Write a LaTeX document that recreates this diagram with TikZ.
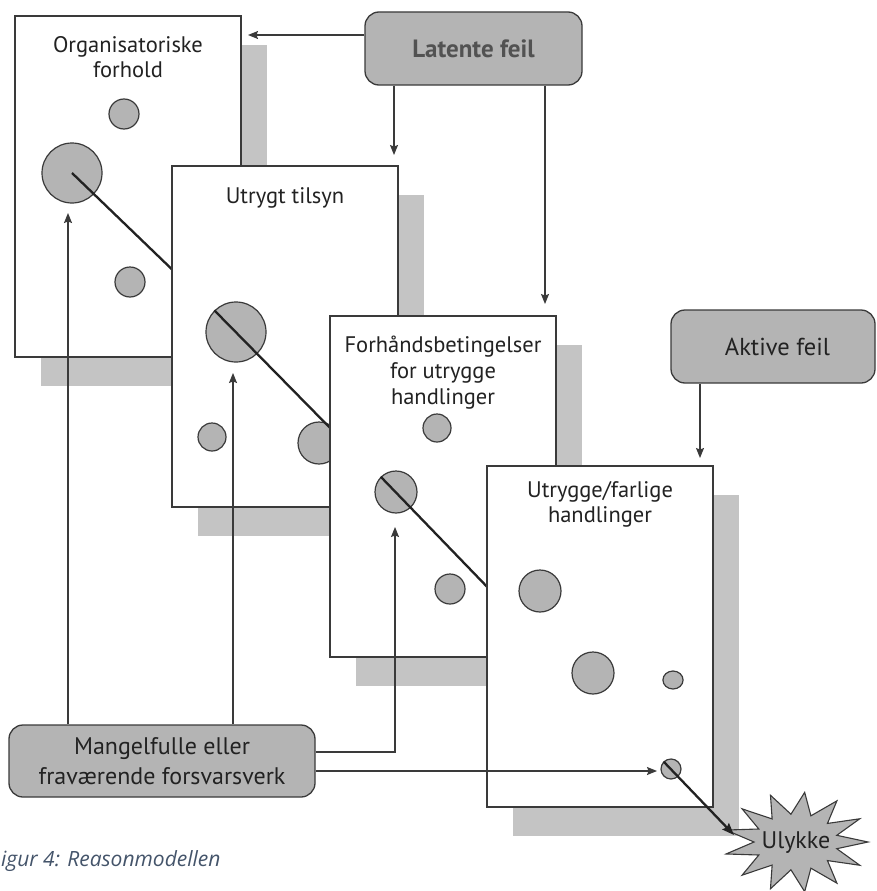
\documentclass[tikz,border=0pt]{standalone}
\usepackage{fontspec}
\setmainfont{PT Sans}
\newfontfamily\capfont{Open Sans}
\usetikzlibrary{arrows.meta}
\definecolor{boxgray}{HTML}{B4B4B4}
\definecolor{shadegray}{HTML}{C4C4C4}
\definecolor{edge}{HTML}{3A3A3A}
\definecolor{ink}{HTML}{222222}
\definecolor{capblue}{HTML}{44546A}
\begin{document}
\begin{tikzpicture}[x=1pt,y=-1pt,
  panel/.style={draw=edge, line width=1.3pt, fill=white, minimum width=226pt, minimum height=341pt, anchor=north west, inner sep=0pt, outer sep=0pt},
  shadebox/.style={fill=shadegray, minimum width=226pt, minimum height=341pt, anchor=north west, inner sep=0pt},
  hole/.style={circle, draw=edge, line width=1.2pt, fill=boxgray, inner sep=0pt, minimum size=#1},
  ptitle/.style={anchor=north, align=center, text=ink, font=\fontsize{22.5}{25}\selectfont, inner sep=0pt},
  gbox/.style={draw=edge, line width=1.3pt, fill=boxgray, rounded corners=14pt, inner sep=0pt, align=center, text=ink},
  thickline/.style={line width=2.3pt, draw=ink},
  arr/.style={draw=edge, line width=1.1pt, -{Stealth[length=10pt,width=8pt,inset=1.5pt]}},
]
\useasboundingbox (0,0) rectangle (876,891);

% ---- panel 1
\node[shadebox] (sh1) at (41,45) {};
\node[panel] (p1) at (15,16) {};
\node[ptitle] (t1) at ([yshift=-20pt]p1.north) {Organisatoriske\\forhold};
\node[hole=30pt] (s1a) at (124,114) {};
\node[hole=60pt] (c1) at (72,173) {};
\node[hole=30pt] (s1b) at (130,282) {};
\coordinate (e1) at (182,279);
\draw[thickline] (c1.center) -- (e1);

% ---- panel 2
\node[shadebox] (sh2) at (198,195) {};
\node[panel] (p2) at (172,166) {};
\node[ptitle] (t2) at ([yshift=-21pt]p2.north) {Utrygt tilsyn};
\node[hole=60pt] (c2) at (236,332) {};
\node[hole=28pt] (s2a) at (212,437) {};
\node[hole=42pt] (s2b) at (319,443) {};
\coordinate (e2) at (338,436);
\draw[thickline] (c2.north west) -- (e2);

% ---- panel 3
\node[shadebox] (sh3) at (356,345) {};
\node[panel] (p3) at (330,316) {};
\node[ptitle, font=\fontsize{22.5}{26}\selectfont] (t3) at ([yshift=-20pt]p3.north) {Forhåndsbetingelser\\for utrygge\\handlinger};
\node[hole=28pt] (s3a) at (437,428) {};
\node[hole=42pt] (c3) at (396,492) {};
\node[hole=30pt] (s3b) at (450,589) {};
\coordinate (e3) at (495,595);
\draw[thickline] (c3.north west) -- (e3);

% ---- panel 4
\node[shadebox] (sh4) at (513,495) {};
\node[panel] (p4) at (487,466) {};
\node[ptitle] (t4) at ([yshift=-15pt]p4.north) {Utrygge/farlige\\handlinger};
\node[hole=42pt] (s4a) at (540,591) {};
\node[hole=42pt] (s4b) at (593,673) {};
\node[circle, draw=edge, line width=1.2pt, fill=boxgray, inner sep=0pt, minimum size=18pt, xscale=1.12] (s4c) at (673,680) {};
\node[hole=20pt] (c4) at (671,769) {};

% ---- labels
\node[gbox, minimum width=217pt, minimum height=73pt, font=\fontsize{25}{28}\selectfont\bfseries, text=black!68] (latent) at (473.5,48.5) {Latente feil};
\node[gbox, minimum width=204pt, minimum height=73pt, font=\fontsize{24.5}{28}\selectfont] (aktive) at (773,346.5) {\hspace*{9pt}Aktive feil};
\node[gbox, minimum width=306pt, minimum height=72pt, font=\fontsize{24}{30}\selectfont] (mangel) at (162,761) {Mangelfulle eller\\fraværende forsvarsverk};

% ---- Ulykke burst
\coordinate (ul) at (796,842);
\begin{scope}[shift={(ul)}]
\draw[fill=boxgray, draw=edge, line width=1.1pt, line join=miter]
  (0:{72} and {50}) \foreach \i [evaluate=\i as \rx using {mod(\i,2)==1?42:72}, evaluate=\i as \ry using {mod(\i,2)==1?28:50}] in {1,...,25} { -- ({\i*360/26}:{\rx} and {\ry}) } -- cycle;
\end{scope}
\node[text=ink, font=\fontsize{24}{28}\selectfont, inner sep=0pt] (ulk) at (796,843) {Ulykke};

% ---- arrows
\coordinate (a1) at (248,35);
\coordinate (a2) at (394,155);
\coordinate (a3) at (545,304);
\coordinate (a4) at (700,458);
\draw[arr] (latent.west |- a1) -- (a1);
\draw[arr] (latent.south -| a2) -- (a2);
\draw[arr] (latent.south -| a3) -- (a3);
\draw[arr] (aktive.south -| a4) -- (a4);

\coordinate (m1) at (68,213);
\coordinate (m2) at (233,373);
\coordinate (m3) at (395,527);
\coordinate (k3) at (395,752);
\coordinate (m4) at (657,771);
\draw[arr] (mangel.north -| m1) -- (m1);
\draw[arr] (mangel.north -| m2) -- (m2);
\draw[arr] (mangel.east |- k3) -- (k3) -- (m3);
\draw[arr] (mangel.east |- m4) -- (m4);

\coordinate (hit) at (734,835);
\draw[thickline, -{Stealth[length=12pt,width=9pt,inset=1.5pt]}] (c4.north west) -- (hit);

% ---- caption
\node[anchor=base west, inner sep=0pt, text=capblue, font=\capfont\itshape\fontsize{21}{24}\selectfont] (cap) at (1,866) {igur 4: Reasonmodellen};
\end{tikzpicture}
\end{document}
